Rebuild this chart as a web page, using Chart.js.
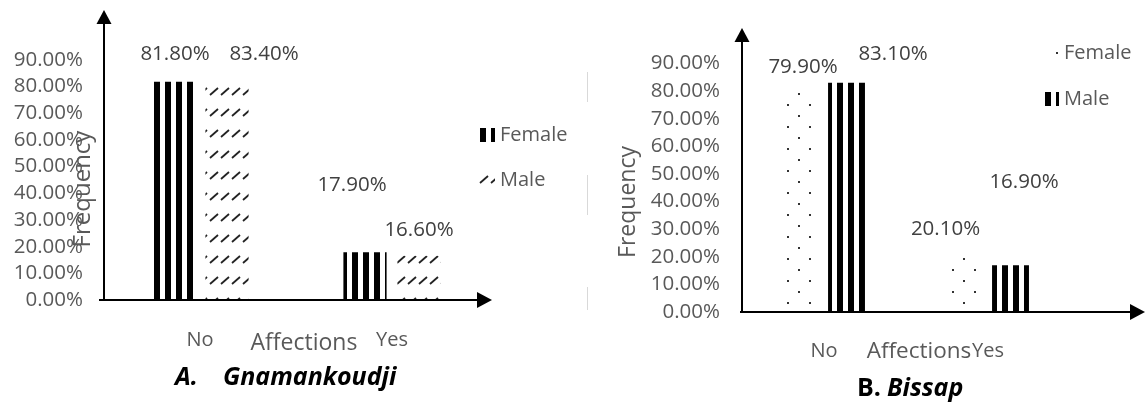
<!DOCTYPE html>
<html>
<head>
<meta charset="utf-8">
<script src="https://cdn.jsdelivr.net/npm/chart.js@4.4.1/dist/chart.umd.min.js"></script>
<style>
  html, body { margin: 0; padding: 0; background: #fff; }
  #wrap { position: relative; width: 1146px; height: 403px; overflow: hidden; }
  canvas { position: absolute; top: 0; }
  #chartA { left: 0; }
  #chartB { left: 573px; }
</style>
</head>
<body>
<div id="wrap">
  <canvas id="chartA" width="573" height="403"></canvas>
  <canvas id="chartB" width="573" height="403"></canvas>
</div>
<script>
// values (percent)
const categories = ["No", "Yes"];
const seriesNames = ["Female", "Male"];
const femaleGnamankoudji = [81.8, 17.9];
const maleGnamankoudji = [83.4, 16.6];
const femaleBissap = [79.9, 20.1];
const maleBissap = [83.1, 16.9];
const yTickValues = [0, 10, 20, 30, 40, 50, 60, 70, 80, 90];

const FONT = "'Open Sans', 'Noto Sans', sans-serif";
const GREY = "#595959";
const NUM_SIZE = 20.5;

function makePattern(w, h, draw) {
  const c = document.createElement("canvas");
  c.width = w;
  c.height = h;
  const g = c.getContext("2d");
  draw(g);
  return g.createPattern(c, "repeat");
}

// vertical black stripes
const stripes = makePattern(11, 1, (g) => {
  g.fillStyle = "#000";
  g.fillRect(0, 0, 6, 1);
});
// small upward diagonals in rows
const hatch = makePattern(11, 21, (g) => {
  g.strokeStyle = "#222";
  g.lineWidth = 1.8;
  g.beginPath();
  g.moveTo(1, 11);
  g.lineTo(9, 4);
  g.stroke();
});
// staggered dots
const dots = makePattern(22, 22, (g) => {
  g.fillStyle = "#333";
  g.fillRect(5, 5, 2, 2);
  g.fillRect(16, 16, 2, 2);
});

function fmtPct(v) {
  return v.toFixed(2) + "%";
}

// draws the arrowed axes, value labels, legend and captions
function makeDecor(lay) {
  return {
    id: "decor",
    afterDatasetsDraw(chart) {
      const ctx = chart.ctx;
      const area = chart.chartArea;
      ctx.save();

      // faint artefact lines
      ctx.strokeStyle = "#d9d9d9";
      ctx.lineWidth = 1;
      lay.faint.forEach(([x, y0, y1]) => {
        ctx.beginPath();
        ctx.moveTo(x + 0.5, y0);
        ctx.lineTo(x + 0.5, y1);
        ctx.stroke();
      });

      // axes
      const ax = area.left, ay = area.bottom;
      ctx.strokeStyle = "#000";
      ctx.fillStyle = "#000";
      ctx.lineWidth = 2;
      ctx.beginPath();
      ctx.moveTo(ax, ay + 1);
      ctx.lineTo(ax, lay.yArrowTop + 10);
      ctx.moveTo(lay.xAxisStart, ay);
      ctx.lineTo(lay.xArrowEnd - 10, ay);
      ctx.stroke();
      ctx.beginPath();
      ctx.moveTo(ax, lay.yArrowTop);
      ctx.lineTo(ax - 7.5, lay.yArrowTop + 14);
      ctx.lineTo(ax + 7.5, lay.yArrowTop + 14);
      ctx.closePath();
      ctx.fill();
      ctx.beginPath();
      ctx.moveTo(lay.xArrowEnd, ay);
      ctx.lineTo(lay.xArrowEnd - 15, ay - 8);
      ctx.lineTo(lay.xArrowEnd - 15, ay + 8);
      ctx.closePath();
      ctx.fill();

      // value labels
      ctx.font = NUM_SIZE + "px " + FONT;
      ctx.fillStyle = "#404040";
      ctx.textAlign = "center";
      ctx.textBaseline = "middle";
      chart.data.datasets.forEach((ds, di) => {
        chart.getDatasetMeta(di).data.forEach((bar, i) => {
          const [dx, dy] = lay.labelShift[di][i];
          ctx.fillText(fmtPct(ds.data[i]), bar.x + dx, bar.y + dy);
        });
      });

      // legend
      chart.data.datasets.forEach((ds, di) => {
        const L = lay.legend[di];
        ctx.save();
        ctx.translate(L.x + L.ox, L.y + L.oy);
        ctx.fillStyle = ds.backgroundColor;
        ctx.fillRect(-L.ox, -L.oy, L.w, L.h);
        ctx.restore();
        ctx.font = "20px " + FONT;
        ctx.fillStyle = GREY;
        ctx.textAlign = "left";
        ctx.fillText(ds.label, L.tx, L.ty);
      });

      // titles and captions
      lay.texts.forEach((t) => {
        ctx.save();
        ctx.font = t.font;
        ctx.fillStyle = t.color;
        ctx.textAlign = t.align || "center";
        ctx.textBaseline = "middle";
        ctx.translate(t.x, t.y);
        if (t.rotate) ctx.rotate(-Math.PI / 2);
        ctx.fillText(t.text, 0, 0);
        ctx.restore();
      });

      ctx.restore();
    }
  };
}

function buildChart(canvasId, female, male, femaleFill, maleFill, frame, lay) {
  return new Chart(document.getElementById(canvasId), {
    type: "bar",
    data: {
      labels: categories,
      datasets: [
        { label: seriesNames[0], data: female, backgroundColor: femaleFill,
          categoryPercentage: frame.catPct, barPercentage: frame.barPct },
        { label: seriesNames[1], data: male, backgroundColor: maleFill,
          categoryPercentage: frame.catPct, barPercentage: frame.barPct }
      ]
    },
    options: {
      responsive: false,
      animation: false,
      events: [],
      layout: { padding: { top: frame.top, right: frame.right, bottom: 0, left: 0 } },
      plugins: { legend: { display: false }, tooltip: { enabled: false } },
      scales: {
        x: {
          grid: { display: false, drawTicks: false },
          border: { display: false },
          ticks: { color: GREY, font: { family: FONT, size: 20 }, padding: frame.xPad },
          afterFit: (s) => { s.height = frame.xHeight; }
        },
        y: {
          min: 0,
          max: 100,
          grid: { display: false, drawTicks: false },
          border: { display: false },
          afterBuildTicks: (s) => { s.ticks = yTickValues.map((v) => ({ value: v })); },
          ticks: {
            color: GREY,
            font: { family: FONT, size: NUM_SIZE },
            padding: frame.yPad,
            callback: (v) => fmtPct(v)
          },
          afterFit: (s) => { s.width = frame.yWidth; }
        }
      }
    },
    plugins: [makeDecor(lay)]
  });
}

buildChart("chartA", femaleGnamankoudji, maleGnamankoudji, stripes, hatch,
  { top: 20, right: 85, xHeight: 103, yWidth: 104, xPad: 28, yPad: 21, catPct: 0.5625, barPct: 0.8 },
  {
    yArrowTop: 10, xArrowEnd: 492, xAxisStart: 99,
    labelShift: [[[2, -28], [-13, -67]], [[37, -23.5], [0, -25.5]]],
    legend: [
      { x: 480, y: 128, w: 15, h: 14, ox: 0, oy: 0, tx: 500, ty: 135 },
      { x: 479, y: 174, w: 16, h: 12, ox: 0, oy: -2, tx: 500, ty: 180 }
    ],
    texts: [
      { text: "Affections", x: 304, y: 343, font: "23px " + FONT, color: GREY },
      { text: "Frequency", x: 83, y: 189, font: "24px " + FONT, color: GREY, rotate: true },
      { text: "A.", x: 175, y: 378, font: "italic bold 25px " + FONT, color: "#000", align: "left" },
      { text: "Gnamankoudji", x: 223, y: 378, font: "italic bold 25px " + FONT, color: "#000", align: "left" }
    ],
    faint: []
  });

buildChart("chartB", femaleBissap, maleBissap, dots, stripes,
  { top: 36, right: 76, xHeight: 91, yWidth: 169, xPad: 27, yPad: 22, catPct: 0.549, barPct: 0.82 },
  {
    yArrowTop: 28, xArrowEnd: 572, xAxisStart: 167,
    labelShift: [[[1.5, -24.5], [-20, -27.5]], [[46.5, -28.6], [13.5, -83.4]]],
    legend: [
      { x: 481, y: 50, w: 6, h: 6, ox: -3, oy: -3, tx: 491, ty: 53 },
      { x: 472, y: 92, w: 14, h: 14, ox: 0, oy: 0, tx: 491, ty: 99 }
    ],
    texts: [
      { text: "Affections", x: 346, y: 352, font: "22.5px " + FONT, color: GREY },
      { text: "Frequency", x: 55, y: 202, font: "23px " + FONT, color: GREY, rotate: true },
      { text: "B.", x: 284, y: 389, font: "bold 25px " + FONT, color: "#000", align: "left" },
      { text: "Bissap", x: 314, y: 389, font: "italic bold 25px " + FONT, color: "#000", align: "left" }
    ],
    faint: [[14, 72, 102], [14, 175, 215], [14, 287, 310]]
  });
</script>
</body>
</html>
